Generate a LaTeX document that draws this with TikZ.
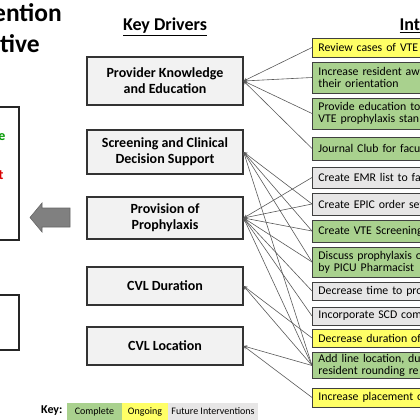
\documentclass[tikz,border=0pt]{standalone}
\usepackage{fontspec}
\setmainfont{Carlito}
\definecolor{compl}{RGB}{169,209,142}
\definecolor{ongo}{RGB}{255,255,102}
\definecolor{futr}{RGB}{231,230,230}
\tikzset{
 driver/.style={draw=black!80, fill=black!5, line width=1.2pt, minimum width=156pt, align=center, font=\bfseries\fontsize{14}{16}\selectfont},
 intv/.style={draw=black!75, line width=0.9pt, anchor=west, minimum width=150pt, text width=138pt, align=left, inner xsep=5pt, inner ysep=2pt, font=\fontsize{11.8}{12}\selectfont},
 done/.style={intv, fill=compl},
 going/.style={intv, fill=ongo},
 future/.style={intv, fill=futr},
 conn/.style={->, draw=black!65, line width=0.6pt},
 keybox/.style={minimum height=17pt, inner sep=0pt, font=\fontsize{10}{11}\selectfont},
}
\begin{document}
\begin{tikzpicture}[>=stealth, x=1pt, y=-1pt]
 \useasboundingbox (0,0) rectangle (420,420);
 \clip (0,0) rectangle (420,420);
 % titles
 \node[anchor=east, inner sep=0pt, font=\bfseries\fontsize{25.5}{27}\selectfont] (ttl1) at (62,13) {ention};
 \node[anchor=east, inner sep=0pt, font=\bfseries\fontsize{25.5}{27}\selectfont] (ttl2) at (40,44) {tive};
 \node[font=\bfseries\fontsize{18}{20}\selectfont] (kdhead) at (165,27) {\underline{Key Drivers}};
 \node[anchor=west, font=\bfseries\fontsize{18}{20}\selectfont] (ivhead) at (396,25) {\underline{Interventions}};
 % aim boxes on the left
 \draw[line width=1.1pt, black!85] (-5,107) rectangle (19,240);
 \draw[line width=1.1pt, black!85] (-5,295) rectangle (19,350);
 \node[anchor=east, text=green!60!black, font=\bfseries\fontsize{14}{16}\selectfont] (aimg) at (9,137) {e};
 \node[anchor=east, text=red!85!black, font=\bfseries\fontsize{14}{16}\selectfont] (aimr) at (7,175) {t};
 \filldraw[fill=black!50, draw=black!60, line width=0.6pt] (30,217.5)--(42,203)--(42,208)--(70,208)--(70,227)--(42,227)--(42,232)--cycle;
 % key drivers
 \node[driver, minimum height=48pt] (pke) at (165,81) {Provider Knowledge\\and Education};
 \node[driver, minimum height=44pt] (scds) at (165,152) {Screening and Clinical\\Decision Support};
 \node[driver, minimum height=42pt] (prov) at (165,218) {Provision of\\Prophylaxis};
 \node[driver, minimum height=38pt] (cvldur) at (165,286) {CVL Duration};
 \node[driver, minimum height=38pt] (cvlloc) at (165,346) {CVL Location};
 % interventions
 \node[going, minimum height=19pt] (rev) at (312,47.5) {Review cases of VTE w};
 \node[done, minimum height=31pt] (aware) at (312,77.5) {Increase resident awa\\their orientation};
 \node[done, minimum height=31pt] (educ) at (312,113.5) {Provide education to\\VTE prophylaxis stan};
 \node[done, minimum height=23pt] (jclub) at (312,148.5) {Journal Club for facul};
 \node[future, minimum height=21pt] (emr) at (312,177.5) {Create EMR list to fac};
 \node[future, minimum height=22pt] (epic) at (312,204) {Create EPIC order set};
 \node[done, minimum height=22pt] (vtescr) at (312,231) {Create VTE Screening};
 \node[done, minimum height=30pt] (pharm) at (312,262) {Discuss prophylaxis o\\by PICU Pharmacist};
 \node[future, minimum height=18pt] (dtime) at (312,291) {Decrease time to pro};
 \node[future, minimum height=18pt] (scd) at (312,316) {Incorporate SCD com};
 \node[going, minimum height=18pt] (ddur) at (312,338) {Decrease duration of};
 \node[done, minimum height=25pt] (lineloc) at (312,365.5) {Add line location, du\\resident rounding re};
 \node[going, minimum height=19pt] (place) at (312,397.5) {Increase placement o};
 % connectors
 \foreach \i in {rev,aware,educ,jclub}
 {
     \draw[conn] (\i.west) -- (pke.east);
 }
 \foreach \i in {epic,vtescr,pharm,lineloc}
 {
     \draw[conn] (\i.west) -- (scds.east);
 }
 \foreach \i in {emr,epic,vtescr,pharm,dtime,scd,lineloc}
 {
     \draw[conn] (\i.west) -- (prov.east);
 }
 \foreach \i in {ddur,lineloc}
 {
     \draw[conn] (\i.west) -- (cvldur.east);
 }
 \foreach \i in {lineloc,place}
 {
     \draw[conn] (\i.west) -- (cvlloc.east);
 }
 % key
 \node[anchor=east, font=\bfseries\fontsize{12}{13}\selectfont] (keylbl) at (66,411) {Key:};
 \node[keybox, fill=compl, minimum width=55pt] (kcomp) at (94.5,411.5) {Complete};
 \node[keybox, fill=ongo, minimum width=46pt] (kongo) at (145,411.5) {Ongoing};
 \node[keybox, fill=futr, minimum width=90pt] (kfut) at (213,411.5) {Future Interventions};
\end{tikzpicture}
\end{document}
